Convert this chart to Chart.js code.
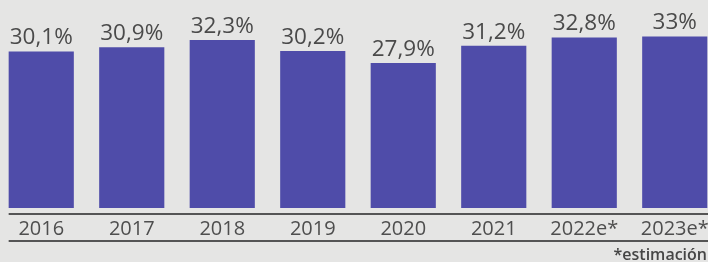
<!DOCTYPE html>
<html>
<head>
<meta charset="utf-8">
<script src="https://cdn.jsdelivr.net/npm/chart.js@4"></script>
<style>
  html, body { margin: 0; padding: 0; background: #e5e5e4; overflow: hidden; }
  #wrap { position: relative; width: 708px; height: 262px; overflow: hidden; }
  #c { position: absolute; left: -4px; top: 0; }
  #note { position: absolute; right: 1px; top: 243px; font: 600 16px "Open Sans", sans-serif; color: #454545; }
</style>
</head>
<body>
<div id="wrap">
  <canvas id="c" width="724" height="262"></canvas>
  <div id="note">*estimación</div>
</div>
<script>
const categories = ["2016", "2017", "2018", "2019", "2020", "2021", "2022e*", "2023e*"];
const values = [30.1, 30.9, 32.3, 30.2, 27.9, 31.2, 32.8, 33];
const valueLabels = ["30,1%", "30,9%", "32,3%", "30,2%", "27,9%", "31,2%", "32,8%", "33%"];

const decor = {
  id: 'decor',
  afterDraw(chart) {
    const ctx = chart.ctx;
    const meta = chart.getDatasetMeta(0);
    ctx.save();
    ctx.font = '500 22.5px "Open Sans", sans-serif';
    ctx.fillStyle = '#4a4a4a';
    ctx.textAlign = 'center';
    ctx.textBaseline = 'alphabetic';
    meta.data.forEach((bar, i) => {
      ctx.fillText(valueLabels[i], bar.x, bar.y - 7);
    });
    const area = chart.chartArea;
    const x0 = meta.data[0].x - meta.data[0].width / 2;
    ctx.strokeStyle = '#555';
    ctx.lineWidth = 2;
    ctx.beginPath();
    ctx.moveTo(x0, area.bottom + 6);
    ctx.lineTo(chart.width, area.bottom + 6);
    ctx.moveTo(x0, area.bottom + 33);
    ctx.lineTo(chart.width, area.bottom + 33);
    ctx.stroke();
    ctx.restore();
  }
};

new Chart(document.getElementById('c'), {
  type: 'bar',
  data: {
    labels: categories,
    datasets: [{
      data: values,
      backgroundColor: '#4f4ca9',
      borderWidth: 0,
      categoryPercentage: 1,
      barPercentage: 0.72
    }]
  },
  options: {
    responsive: false,
    animation: false,
    devicePixelRatio: 1,
    layout: { padding: 0 },
    plugins: { legend: { display: false }, tooltip: { enabled: false } },
    scales: {
      x: {
        grid: { display: false, drawTicks: false },
        border: { display: false },
        ticks: {
          padding: 9,
          color: '#4e4e4e',
          font: { family: '"Open Sans", sans-serif', size: 20, weight: '500' },
          maxRotation: 0,
          autoSkip: false
        },
        afterFit(s) { s.height = 54; }
      },
      y: {
        display: false,
        min: 0,
        max: 40
      }
    }
  },
  plugins: [decor]
});
</script>
</body>
</html>
